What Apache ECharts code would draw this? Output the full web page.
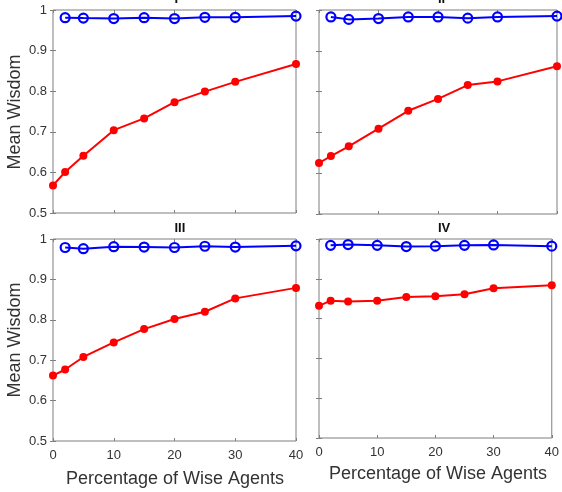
<!DOCTYPE html>
<html>
<head>
<meta charset="utf-8">
<script src="https://cdn.jsdelivr.net/npm/echarts@6/dist/echarts.min.js"></script>
<style>
  html, body { margin: 0; padding: 0; background: #fff; }
  #chart { width: 562px; height: 492px; }
</style>
</head>
<body>
<div id="chart"></div>
<script>
// Percentage of wise agents for each simulation run
const xWisdomRed = [0, 2, 5, 10, 15, 20, 25, 30, 40];
const xWisdomBlue = [2, 5, 10, 15, 20, 25, 30, 40];

// Panel titles
const panelTitles = ['I', 'II', 'III', 'IV'];

// Mean wisdom, red series (all agents)
const redI   = [0.568, 0.601, 0.641, 0.704, 0.733, 0.773, 0.799, 0.823, 0.867];
const redII  = [0.625, 0.642, 0.666, 0.709, 0.753, 0.782, 0.816, 0.825, 0.862];
const redIII = [0.662, 0.677, 0.708, 0.744, 0.777, 0.802, 0.820, 0.853, 0.879];
const redIV  = [0.832, 0.845, 0.843, 0.845, 0.854, 0.856, 0.861, 0.876, 0.884];

// Mean wisdom, blue series (wise agents)
const blueI   = [0.981, 0.980, 0.979, 0.981, 0.979, 0.982, 0.982, 0.985];
const blueII  = [0.983, 0.977, 0.979, 0.983, 0.983, 0.980, 0.983, 0.985];
const blueIII = [0.979, 0.976, 0.981, 0.980, 0.979, 0.982, 0.980, 0.983];
const blueIV  = [0.984, 0.986, 0.984, 0.981, 0.982, 0.984, 0.985, 0.982];

// Axis ticks
const xTicks = [0, 10, 20, 30, 40];
const yTicks = [0.5, 0.6, 0.7, 0.8, 0.9, 1];

const redSets = [redI, redII, redIII, redIV];
const blueSets = [blueI, blueII, blueIII, blueIV];

// Panel boxes in pixels: left, top, width, height
const boxes = [
  { left: 53,  top: 10,  width: 243, height: 203 },
  { left: 319, top: 10,  width: 238, height: 204 },
  { left: 53,  top: 239, width: 243, height: 202 },
  { left: 319, top: 239, width: 238, height: 199 }
];

const font = '"Liberation Sans", Arial, sans-serif';
const frameColor = '#7f7f7f';
const labelColor = '#333333';

const grids = [], xAxes = [], yAxes = [], series = [], graphics = [];

boxes.forEach((b, i) => {
  grids.push({ left: b.left, top: b.top, width: b.width, height: b.height,
    show: true, borderColor: frameColor, borderWidth: 1, backgroundColor: 'transparent' });

  const showX = i >= 2;
  const showY = i % 2 === 0;
  const xMin = xTicks[0], xMax = xTicks[xTicks.length - 1];
  const yMin = yTicks[0], yMax = yTicks[yTicks.length - 1];

  // bottom and top x axes (top one only carries mirrored ticks)
  ['bottom', 'top'].forEach((pos, k) => {
    xAxes.push({
      type: 'value', gridIndex: i, position: pos, min: xMin, max: xMax, interval: 10,
      axisLine: { show: false },
      axisTick: { show: true, inside: true, length: 3, lineStyle: { color: frameColor } },
      axisLabel: { show: showX && k === 0, color: labelColor, fontSize: 13, fontFamily: font, margin: 8 },
      splitLine: { show: false }
    });
  });
  ['left', 'right'].forEach((pos, k) => {
    yAxes.push({
      type: 'value', gridIndex: i, position: pos, min: yMin, max: yMax, interval: 0.1,
      axisLine: { show: false },
      axisTick: { show: true, inside: true, length: 3, lineStyle: { color: frameColor } },
      axisLabel: { show: showY && k === 0, color: labelColor, fontSize: 13, fontFamily: font, margin: 6,
        formatter: v => (Math.abs(v - 1) < 1e-9 ? '1' : v.toFixed(1)) },
      splitLine: { show: false }
    });
  });

  series.push({
    type: 'line', xAxisIndex: i * 2, yAxisIndex: i * 2,
    data: xWisdomRed.map((x, j) => [x, redSets[i][j]]),
    symbol: 'circle', symbolSize: 8, showSymbol: true,
    lineStyle: { color: '#ff0000', width: 2 },
    itemStyle: { color: '#ff0000' },
    animation: false, z: 3
  });
  series.push({
    type: 'line', xAxisIndex: i * 2, yAxisIndex: i * 2,
    data: xWisdomBlue.map((x, j) => [x, blueSets[i][j]]),
    symbol: 'circle', symbolSize: 9, showSymbol: true,
    lineStyle: { color: '#0000ff', width: 2 },
    itemStyle: { color: 'rgba(255,255,255,0)', borderColor: '#0000ff', borderWidth: 2.2 },
    animation: false, z: 4
  });

  graphics.push({
    type: 'text', left: b.left + b.width / 2, top: b.top - 17,
    style: { text: panelTitles[i], font: 'bold 13px ' + font, fill: '#111', textAlign: 'center' }
  });
});

// Axis titles
graphics.push({
  type: 'text', rotation: Math.PI / 2, x: 15, y: 112,
  style: { text: 'Mean Wisdom', font: '18px ' + font, fill: labelColor, textAlign: 'center', textVerticalAlign: 'middle' }
});
graphics.push({
  type: 'text', rotation: Math.PI / 2, x: 15, y: 340,
  style: { text: 'Mean Wisdom', font: '18px ' + font, fill: labelColor, textAlign: 'center', textVerticalAlign: 'middle' }
});
graphics.push({
  type: 'text', x: 175, y: 479,
  style: { text: 'Percentage of Wise Agents', font: '18px ' + font, fill: labelColor, textAlign: 'center', textVerticalAlign: 'middle' }
});
graphics.push({
  type: 'text', x: 438, y: 474,
  style: { text: 'Percentage of Wise Agents', font: '18px ' + font, fill: labelColor, textAlign: 'center', textVerticalAlign: 'middle' }
});

const chart = echarts.init(document.getElementById('chart'), null, { renderer: 'canvas' });
chart.setOption({
  animation: false,
  backgroundColor: '#ffffff',
  grid: grids,
  xAxis: xAxes,
  yAxis: yAxes,
  series: series,
  graphic: graphics
});
</script>
</body>
</html>
